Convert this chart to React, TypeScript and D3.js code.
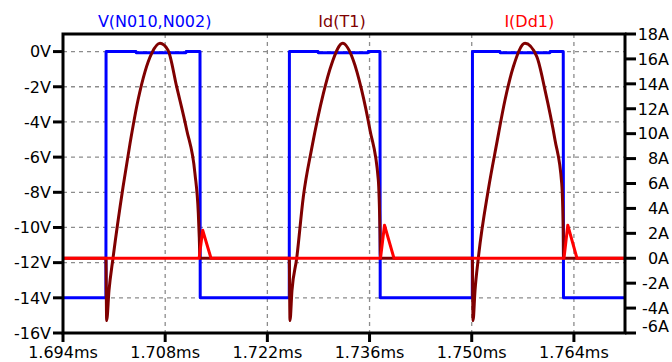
import * as d3 from "d3";

/* ---------------- data ---------------- */

// time axis ticks, ms
const timeTicks = [1.694, 1.708, 1.722, 1.736, 1.75, 1.764];
// left axis (volts) and right axis (amps) ticks
const voltTicks = [0, -2, -4, -6, -8, -10, -12, -14, -16];
const ampTicks = [18, 16, 14, 12, 10, 8, 6, 4, 2, 0, -2, -4, -6];

const traceNames = ["V(N010,N002)", "Id(T1)", "I(Dd1)"];
const traceColors = ["#0000ff", "#7f0000", "#ff0000"];

// V(N010,N002), volts
const vTime = [
  1.694, 1.69988, 1.6999, 1.704, 1.70402, 1.71085, 1.71087, 1.71277, 1.7128,
  1.725, 1.72502, 1.72894, 1.72896, 1.73579, 1.73581, 1.73743, 1.73746,
  1.75008, 1.7501, 1.75387, 1.75389, 1.76072, 1.76074, 1.76254, 1.76257, 1.771,
];
const vVals = [
  -14, -14, 0, 0, -0.06, -0.06, 0, 0, -14,
  -14, 0, 0, -0.06, -0.06, 0, 0, -14,
  -14, 0, 0, -0.06, -0.06, 0, 0, -14, -14,
];

// Id(T1), amps
const idTime = [
  1.694, 1.69988, 1.69998, 1.7003, 1.70085, 1.70222, 1.70318, 1.70428, 1.70615,
  1.70729, 1.70839, 1.70958, 1.71095, 1.71208, 1.71254, 1.71267, 1.71277,
  1.725, 1.7251, 1.72537, 1.72602, 1.72692, 1.72807, 1.72966, 1.73081,
  1.73232, 1.73377, 1.73492, 1.73606, 1.7372, 1.73743, 1.7375,
  1.75008, 1.75018, 1.75045, 1.7509, 1.75227, 1.75342, 1.75456, 1.75569,
  1.7573, 1.7589, 1.76004, 1.76141, 1.76233, 1.76254, 1.76258, 1.771,
];
const idVals = [
  0, 0, -5.0, -2.6, 0, 5.7, 9.2, 12.7, 16.45,
  17.25, 16.7, 13.75, 10.3, 6.8, 3.6, 1.7, 0,
  0, -5.0, -2.6, 0, 4.9, 8.8, 13.2, 15.6,
  17.25, 15.9, 13.5, 10.3, 6.3, 2.2, 0,
  0, -5.0, -2.6, 0, 5.5, 9.2, 12.7, 15.35,
  17.25, 16.2, 13.5, 9.5, 6.0, 2.2, 0, 0,
];

// I(Dd1), amps
const ddTime = [
  1.694, 1.71265, 1.71314, 1.71428, 1.7375, 1.73805, 1.73935, 1.76264, 1.76316,
  1.76442, 1.771,
];
const ddVals = [0, 0, 2.25, 0, 0, 2.65, 0, 0, 2.65, 0, 0];

/* ---------------- layout ---------------- */

const W = 672;
const H = 362;
const plot = { left: 63, right: 625, top: 34, bottom: 333 };
const font = "DejaVu Sans, sans-serif";

export default function App() {
  const x = d3.scaleLinear().domain([1.694, 1.771]).range([plot.left, plot.right]);
  const yV = d3.scaleLinear().domain([-16, 1]).range([plot.bottom, plot.top]);
  const yA = d3.scaleLinear().domain([-6, 18]).range([plot.bottom, plot.top]);

  const linePts = (ts: number[], vs: number[]) => ts.map((t, i) => [t, vs[i]] as [number, number]);

  const vLine = d3
    .line<[number, number]>()
    .x((d) => x(d[0]))
    .y((d) => yV(d[1]));
  const aLine = d3
    .line<[number, number]>()
    .x((d) => x(d[0]))
    .y((d) => yA(d[1]));
  const aCurve = d3
    .line<[number, number]>()
    .x((d) => x(d[0]))
    .y((d) => yA(d[1]))
    .curve(d3.curveMonotoneX);

  const pw = plot.right - plot.left;

  return (
    <svg width={W} height={H} style={{ display: "block", background: "#fff" }} fontFamily={font}>
      <style>{`body{margin:0}`}</style>
      <defs>
        <clipPath id="plotClip">
          <rect x={plot.left} y={plot.top} width={pw} height={plot.bottom - plot.top} />
        </clipPath>
      </defs>

      {/* grid */}
      <g stroke="#8c8c8c" strokeWidth={1.3} strokeDasharray="4,4">
        {voltTicks
          .filter((v) => v > -16)
          .map((v) => (
            <line key={`gv${v}`} x1={plot.left} x2={plot.right} y1={yV(v)} y2={yV(v)} />
          ))}
        {timeTicks.slice(1).map((t) => (
          <line key={`gt${t}`} x1={x(t)} x2={x(t)} y1={plot.top} y2={plot.bottom} />
        ))}
      </g>

      {/* traces */}
      <g clipPath="url(#plotClip)" fill="none" strokeWidth={3} strokeLinejoin="round">
        <path d={vLine(linePts(vTime, vVals)) ?? ""} stroke={traceColors[0]} />
        <path d={aCurve(linePts(idTime, idVals)) ?? ""} stroke={traceColors[1]} />
        <path d={aLine(linePts(ddTime, ddVals)) ?? ""} stroke={traceColors[2]} />
      </g>

      {/* frame */}
      <rect
        x={plot.left}
        y={plot.top}
        width={pw}
        height={plot.bottom - plot.top}
        fill="none"
        stroke="#000"
        strokeWidth={3}
      />

      {/* x axis */}
      <g fontSize={16} textAnchor="middle" fill="#000">
        {timeTicks.map((t) => (
          <g key={`xt${t}`}>
            <line x1={x(t)} x2={x(t)} y1={plot.bottom} y2={plot.bottom + 9} stroke="#000" strokeWidth={3} />
            <text x={x(t)} y={H - 4}>
              {`${t.toFixed(3)}ms`}
            </text>
          </g>
        ))}
      </g>

      {/* left axis */}
      <g fontSize={16} textAnchor="end" fill="#000">
        {voltTicks.map((v) => (
          <g key={`yv${v}`}>
            <line x1={plot.left - 10} x2={plot.left} y1={yV(v)} y2={yV(v)} stroke="#000" strokeWidth={3} />
            <text x={plot.left - 12} y={yV(v)} dy="0.36em">
              {`${v}V`}
            </text>
          </g>
        ))}
      </g>

      {/* right axis */}
      <g fontSize={16} textAnchor="end" fill="#000">
        {ampTicks.map((a) => (
          <g key={`ya${a}`}>
            <line x1={plot.right} x2={plot.right + 11} y1={yA(a)} y2={yA(a)} stroke="#000" strokeWidth={3} />
            <text x={W - 3} y={a === -6 ? yA(a) - 7 : yA(a)} dy="0.36em">
              {`${a}A`}
            </text>
          </g>
        ))}
      </g>

      {/* trace names */}
      <g fontSize={16} textAnchor="middle">
        {traceNames.map((n, i) => (
          <text key={n} x={plot.left + (pw * (i + 0.5)) / 3 - 2} y={27} fill={traceColors[i]}>
            {n}
          </text>
        ))}
      </g>
    </svg>
  );
}
